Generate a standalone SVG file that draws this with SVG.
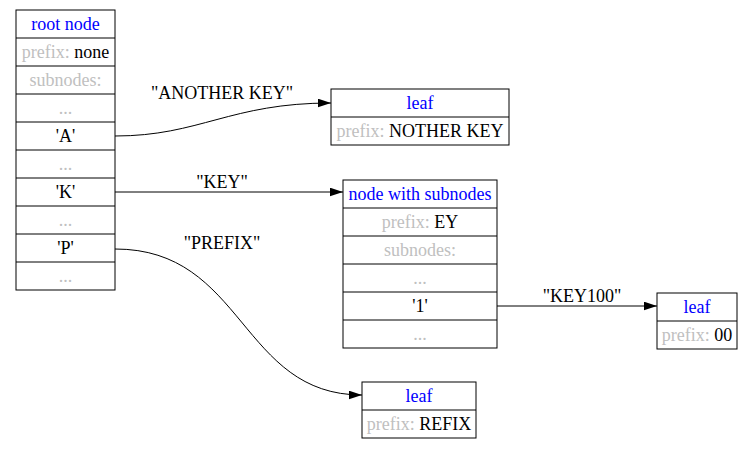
<svg xmlns="http://www.w3.org/2000/svg" width="753" height="449" viewBox="0 0 753 449">
<style>
text{font-family:"Liberation Serif","Times New Roman",serif;font-size:18px;text-anchor:middle}
.t{fill:#0000ff}
.g{fill:#c0c0c0}
.k{fill:#000}
.box{fill:#fff;stroke:#000;stroke-width:1}
.e{fill:none;stroke:#000;stroke-width:1}
.lbl{fill:#000}
</style>
<defs>
<marker id="ah" viewBox="0 0 13.5 9" refX="13.5" refY="4.5" markerWidth="13.5" markerHeight="9" markerUnits="userSpaceOnUse" orient="auto">
<polygon points="0,0 13.5,4.5 0,9" fill="#000"/>
</marker>
</defs>
<rect width="753" height="449" fill="#fff"/>

<g id="root">
<rect class="box" x="16" y="10" width="99" height="280"/>
<line class="e" x1="16" y1="38" x2="115" y2="38"/>
<line class="e" x1="16" y1="66" x2="115" y2="66"/>
<line class="e" x1="16" y1="94" x2="115" y2="94"/>
<line class="e" x1="16" y1="122" x2="115" y2="122"/>
<line class="e" x1="16" y1="150" x2="115" y2="150"/>
<line class="e" x1="16" y1="178" x2="115" y2="178"/>
<line class="e" x1="16" y1="206" x2="115" y2="206"/>
<line class="e" x1="16" y1="234" x2="115" y2="234"/>
<line class="e" x1="16" y1="262" x2="115" y2="262"/>
<text class="t" x="65.5" y="29.5">root node</text>
<text x="65.5" y="57.5"><tspan class="g">prefix: </tspan><tspan class="k">none</tspan></text>
<text class="g" x="65.5" y="85.5">subnodes:</text>
<text class="g" x="65.5" y="113.5">...</text>
<text class="k" x="65.5" y="141.5">'A'</text>
<text class="g" x="65.5" y="169.5">...</text>
<text class="k" x="65.5" y="197.5">'K'</text>
<text class="g" x="65.5" y="225.5">...</text>
<text class="k" x="65.5" y="253.5">'P'</text>
<text class="g" x="65.5" y="281.5">...</text>
</g>

<g id="leafA">
<rect class="box" x="331" y="89" width="178" height="56"/>
<line class="e" x1="331" y1="117" x2="509" y2="117"/>
<text class="t" x="420" y="108.5">leaf</text>
<text x="420" y="136.5"><tspan class="g">prefix: </tspan><tspan class="k">NOTHER KEY</tspan></text>
</g>

<g id="nodeK">
<rect class="box" x="343" y="180" width="154" height="168"/>
<line class="e" x1="343" y1="208" x2="497" y2="208"/>
<line class="e" x1="343" y1="236" x2="497" y2="236"/>
<line class="e" x1="343" y1="264" x2="497" y2="264"/>
<line class="e" x1="343" y1="292" x2="497" y2="292"/>
<line class="e" x1="343" y1="320" x2="497" y2="320"/>
<text class="t" x="420" y="199.5">node with subnodes</text>
<text x="420" y="227.5"><tspan class="g">prefix: </tspan><tspan class="k">EY</tspan></text>
<text class="g" x="420" y="255.5">subnodes:</text>
<text class="g" x="420" y="283.5">...</text>
<text class="k" x="420" y="311.5">'1'</text>
<text class="g" x="420" y="339.5">...</text>
</g>

<g id="leaf1">
<rect class="box" x="657" y="293" width="80" height="56"/>
<line class="e" x1="657" y1="321" x2="737" y2="321"/>
<text class="t" x="697" y="312.5">leaf</text>
<text x="697" y="340.5"><tspan class="g">prefix: </tspan><tspan class="k">00</tspan></text>
</g>

<g id="leafP">
<rect class="box" x="362" y="382" width="114" height="56"/>
<line class="e" x1="362" y1="410" x2="476" y2="410"/>
<text class="t" x="419" y="401.5">leaf</text>
<text x="419" y="429.5"><tspan class="g">prefix: </tspan><tspan class="k">REFIX</tspan></text>
</g>

<g id="edges">
<path class="e" d="M115,136 C200,136 230,103 331,103" marker-end="url(#ah)"/>
<text class="lbl" x="222" y="99">"ANOTHER KEY"</text>
<path class="e" d="M115,192 L343,192" marker-end="url(#ah)"/>
<text class="lbl" x="222" y="188">"KEY"</text>
<path class="e" d="M115,249 C245,249 240,395 362,395" marker-end="url(#ah)"/>
<text class="lbl" x="222" y="249">"PREFIX"</text>
<path class="e" d="M497,306 L657,306" marker-end="url(#ah)"/>
<text class="lbl" x="582" y="302">"KEY100"</text>
</g>
</svg>
